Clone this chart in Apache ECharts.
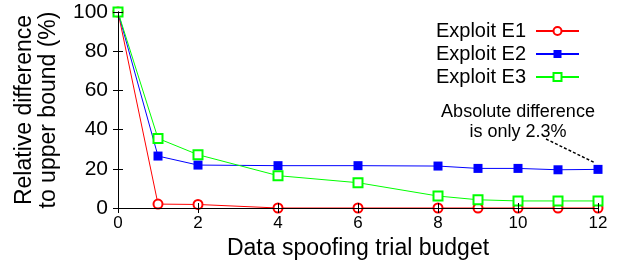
<!DOCTYPE html>
<html>
<head>
<meta charset="utf-8">
<script src="https://cdn.jsdelivr.net/npm/echarts@6/dist/echarts.min.js"></script>
<style>html,body{margin:0;padding:0;background:#fff}#c{width:626px;height:267px}</style>
</head>
<body>
<div id="c"></div>
<script>
const budgets = [0, 1, 2, 4, 6, 8, 9, 10, 11, 12];
const exploitE1 = [100, 2.0, 1.8, 0, 0, 0, 0, 0, 0, 0];
const exploitE2 = [100, 26.5, 21.9, 21.6, 21.6, 21.4, 20.2, 20.2, 19.5, 19.7];
const exploitE3 = [100, 35.5, 27.2, 16.5, 12.9, 6.1, 4.2, 3.6, 3.6, 3.6];
const seriesNames = ['Exploit E1', 'Exploit E2', 'Exploit E3'];
const xTicks = [0, 2, 4, 6, 8, 10, 12];
const yTicks = [0, 20, 40, 60, 80, 100];
const annotationText = 'Absolute difference\nis only 2.3%';
const annotationAt = [10, 44];
const arrowFrom = [10.7, 35.2];
const arrowTo = [11.93, 23.0];

const FONT = 'Liberation Sans';
const pair = (xs, ys) => xs.map((x, i) => [x, ys[i]]);

const chart = echarts.init(document.getElementById('c'), null, {renderer: 'canvas'});
const axisLine = {show: true, lineStyle: {color: '#000', width: 1}};
const ticks = {show: true, inside: true, length: 5, lineStyle: {color: '#000', width: 1}};

chart.setOption({
  animation: false,
  textStyle: {fontFamily: FONT},
  grid: {left: 118, right: 28, top: 12, bottom: 59, containLabel: false},
  legend: {
    data: seriesNames,
    orient: 'vertical',
    right: 46,
    top: 21,
    padding: 0,
    align: 'right',
    itemWidth: 43,
    itemHeight: 10,
    itemGap: 3,
    textStyle: {fontFamily: FONT, fontSize: 20, color: '#000', lineHeight: 20, padding: [0, 5, 0, 0]}
  },
  xAxis: [{
    type: 'value', min: 0, max: 12, interval: 2,
    axisLine: axisLine, axisTick: ticks, splitLine: {show: false},
    axisLabel: {fontFamily: FONT, fontSize: 17, color: '#000', margin: 7},
    name: 'Data spoofing trial budget', nameLocation: 'middle', nameGap: 26,
    nameTextStyle: {fontFamily: FONT, fontSize: 23, color: '#000'},
    z: 5
  }, {
    type: 'value', min: 0, max: 12, interval: 2, position: 'top',
    axisLine: axisLine, axisTick: ticks, axisLabel: {show: false}, splitLine: {show: false}, z: 5
  }],
  yAxis: [{
    type: 'value', min: 0, max: 100, interval: 20,
    axisLine: axisLine, axisTick: ticks, splitLine: {show: false},
    axisLabel: {fontFamily: FONT, fontSize: 21, color: '#000', margin: 10},
    name: 'Relative difference\nto upper bound (%)', nameLocation: 'middle', nameGap: 57, nameRotate: 90,
    nameTextStyle: {fontFamily: FONT, fontSize: 23, color: '#000', lineHeight: 24},
    z: 5
  }, {
    type: 'value', min: 0, max: 100, interval: 20, position: 'right',
    axisLine: axisLine, axisTick: ticks, axisLabel: {show: false}, splitLine: {show: false}, z: 5
  }],
  series: [{
    name: seriesNames[0], type: 'line', data: pair(budgets, exploitE1),
    symbol: 'emptyCircle', symbolSize: 9, clip: false,
    itemStyle: {color: '#ff0000', borderWidth: 1},
    lineStyle: {color: '#ff0000', width: 1}
  }, {
    name: seriesNames[1], type: 'line', data: pair(budgets, exploitE2),
    symbol: 'rect', symbolSize: 9, clip: false,
    itemStyle: {color: '#0000ff'},
    lineStyle: {color: '#0000ff', width: 1},
    markLine: {
      silent: true, symbol: ['none', 'arrow'], symbolSize: [0, 9],
      label: {show: false},
      lineStyle: {color: '#000', type: [3, 2], width: 1.5},
      data: [[{coord: arrowFrom}, {coord: arrowTo}]]
    },
    markPoint: {
      silent: true, symbol: 'circle', symbolSize: 0,
      label: {show: true, position: 'inside', formatter: annotationText,
        fontFamily: FONT, fontSize: 18, lineHeight: 20, color: '#000', align: 'center'},
      data: [{coord: annotationAt}]
    }
  }, {
    name: seriesNames[2], type: 'line', data: pair(budgets, exploitE3),
    symbol: 'emptyRect', symbolSize: 9, clip: false,
    itemStyle: {color: '#00ff00', borderWidth: 1},
    lineStyle: {color: '#00ff00', width: 1}
  }]
});
</script>
</body>
</html>
